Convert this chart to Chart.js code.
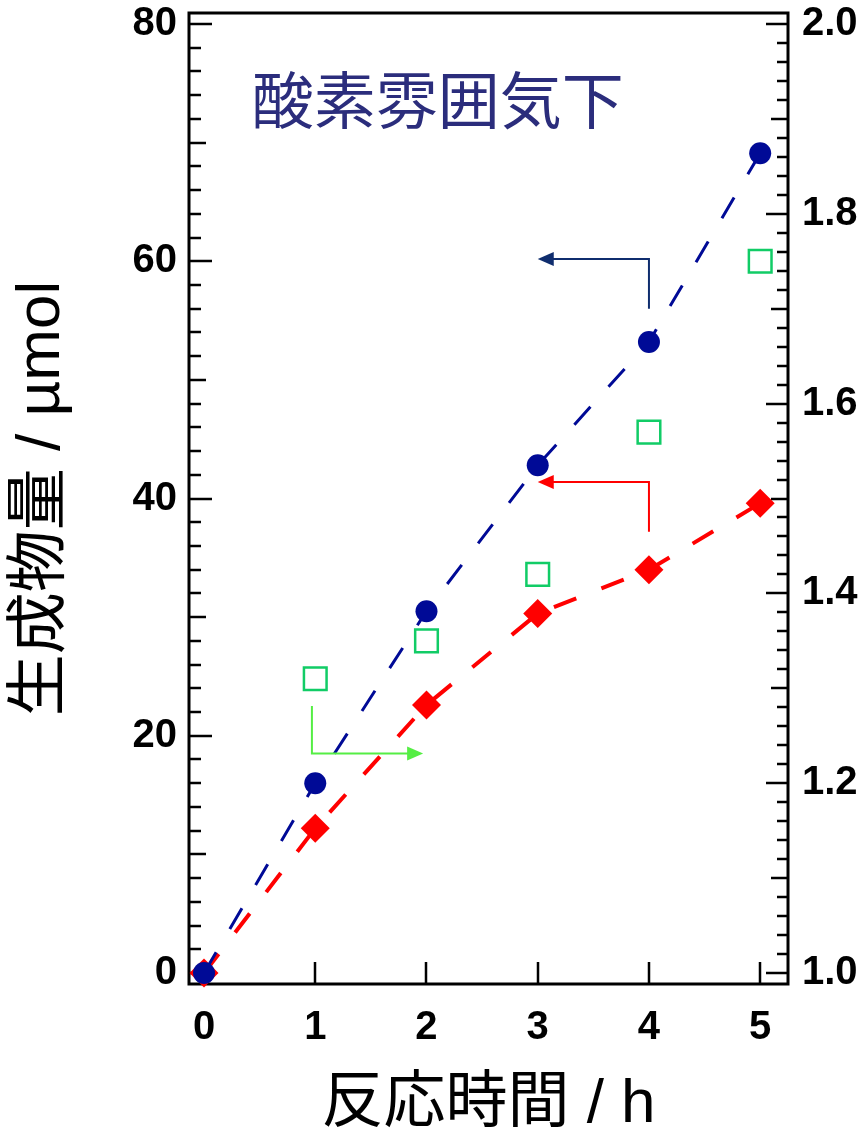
<!DOCTYPE html>
<html>
<head>
<meta charset="utf-8">
<script src="https://cdn.jsdelivr.net/npm/chart.js@4.4.1/dist/chart.umd.min.js"></script>
<style>
  body { margin: 0; background: #fff; }
  canvas { display: block; }
</style>
</head>
<body>
<canvas id="chart" width="865" height="1138"></canvas>
<script>
// data
const hours = [0, 1, 2, 3, 4, 5];
const blueAmount = [0, 16.0, 30.5, 42.8, 53.2, 69.1];   // µmol, left axis
const redAmount = [0, 12.2, 22.6, 30.3, 34.0, 39.6];    // µmol, left axis
const greenHours = [1, 2, 3, 4, 5];
const greenRatio = [1.31, 1.35, 1.42, 1.57, 1.75];      // right axis

const xTicks = [0, 1, 2, 3, 4, 5];
const leftTicks = [0, 20, 40, 60, 80];
const rightTicks = [1.0, 1.2, 1.4, 1.6, 1.8, 2.0];

const FONT = "'Liberation Sans', 'Noto Sans CJK JP', sans-serif";

// annotation arrows, in data units of x / left y
const arrows = [
  { pts: [[4, 56], [4, 60.2], [3, 60.2]], color: "#0f2d6e" },
  { pts: [[4, 37.2], [4, 41.4], [3, 41.4]], color: "#ff0000" },
  { pts: [[0.97, 22.5], [0.97, 18.5], [1.97, 18.5]], color: "#55ee44" }
];

const frameTicks = {
  id: "frameTicks",
  beforeDatasetsDraw(chart) {
    const { ctx, chartArea: a } = chart;
    const x = chart.scales.x, y = chart.scales.y, y1 = chart.scales.y1;
    ctx.save();
    ctx.strokeStyle = "#000";
    ctx.lineWidth = 2.5;
    ctx.beginPath();
    for (let v = 0; v <= 80; v += 2) {
      const len = v % 20 === 0 ? 23 : v % 10 === 0 ? 17 : 12;
      const py = Math.round(y.getPixelForValue(v));
      ctx.moveTo(a.left, py);
      ctx.lineTo(a.left + len, py);
    }
    for (let i = 0; i <= 50; i++) {
      const len = i % 10 === 0 ? 22 : i % 5 === 0 ? 17 : 11;
      const py = Math.round(y1.getPixelForValue(1 + i * 0.02));
      ctx.moveTo(a.right, py);
      ctx.lineTo(a.right - len, py);
    }
    xTicks.forEach(v => {
      const px = Math.round(x.getPixelForValue(v));
      ctx.moveTo(px, a.bottom);
      ctx.lineTo(px, a.bottom - 22);
    });
    ctx.stroke();
    ctx.lineWidth = 3;
    ctx.strokeRect(a.left, a.top, a.right - a.left, a.bottom - a.top);
    ctx.restore();
  },
  afterDatasetsDraw(chart) {
    const { ctx } = chart;
    const x = chart.scales.x, y = chart.scales.y;
    ctx.save();
    arrows.forEach(ar => {
      const p = ar.pts.map(([vx, vy]) => [x.getPixelForValue(vx), y.getPixelForValue(vy)]);
      const tip = p[p.length - 1], prev = p[p.length - 2];
      const dir = Math.sign(tip[0] - prev[0]);
      ctx.strokeStyle = ar.color;
      ctx.fillStyle = ar.color;
      ctx.lineWidth = 2;
      ctx.beginPath();
      ctx.moveTo(p[0][0], p[0][1]);
      ctx.lineTo(p[1][0], p[1][1]);
      ctx.lineTo(tip[0] - dir * 12, tip[1]);
      ctx.stroke();
      ctx.beginPath();
      ctx.moveTo(tip[0], tip[1]);
      ctx.lineTo(tip[0] - dir * 16, tip[1] - 7);
      ctx.lineTo(tip[0] - dir * 16, tip[1] + 7);
      ctx.closePath();
      ctx.fill();
    });
    // in-plot caption
    ctx.font = "62px 'Noto Sans CJK JP', sans-serif";
    ctx.fillStyle = "#2b2d7c";
    ctx.textBaseline = "middle";
    ctx.textAlign = "left";
    ctx.fillText("酸素雰囲気下", x.getPixelForValue(0.43), y.getPixelForValue(73.6));
    ctx.restore();
  }
};

function noPad(scale) {
  scale.paddingTop = 0;
  scale.paddingBottom = 0;
  scale.paddingLeft = 0;
  scale.paddingRight = 0;
}

new Chart(document.getElementById("chart"), {
  type: "scatter",
  data: {
    datasets: [
      {
        label: "blue",
        data: hours.map((h, i) => ({ x: h, y: blueAmount[i] })),
        yAxisID: "y",
        showLine: true,
        borderColor: "#000a96",
        borderWidth: 3,
        borderDash: [24, 27],
        pointStyle: "circle",
        pointRadius: 11,
        pointBackgroundColor: "#000a96",
        pointBorderWidth: 0,
        clip: false
      },
      {
        label: "red",
        data: hours.map((h, i) => ({ x: h, y: redAmount[i] })),
        yAxisID: "y",
        showLine: true,
        borderColor: "#ff0000",
        borderWidth: 4,
        borderDash: [24, 27],
        pointStyle: "rectRot",
        pointRadius: 14.5,
        pointBackgroundColor: "#ff0000",
        pointBorderWidth: 0,
        clip: false
      },
      {
        label: "green",
        data: greenHours.map((h, i) => ({ x: h, y: greenRatio[i] })),
        yAxisID: "y1",
        showLine: false,
        pointStyle: "rect",
        pointRadius: 16,
        pointBackgroundColor: "rgba(0,0,0,0)",
        pointBorderColor: "#11cc66",
        pointBorderWidth: 2.5,
        clip: false
      }
    ]
  },
  options: {
    responsive: false,
    animation: false,
    devicePixelRatio: 1,
    layout: { autoPadding: false, padding: { top: 13, left: 0, right: 0, bottom: 0 } },
    plugins: { legend: { display: false }, tooltip: { enabled: false } },
    scales: {
      x: {
        type: "linear",
        position: "bottom",
        min: -0.135,
        max: 5.25,
        afterBuildTicks: s => { s.ticks = xTicks.map(v => ({ value: v })); },
        afterFit: s => { s.height = 154; noPad(s); },
        grid: { display: false, drawTicks: false },
        border: { display: false },
        ticks: { color: "#000", font: { family: FONT, size: 40, weight: "bold" }, padding: 20, maxRotation: 0 },
        title: {
          display: true,
          text: "反応時間 / h",
          color: "#000",
          font: { family: FONT, size: 62, lineHeight: 1 },
          padding: { top: 0, bottom: 2 }
        }
      },
      y: {
        type: "linear",
        position: "left",
        min: -0.93,
        max: 80.93,
        afterBuildTicks: s => { s.ticks = leftTicks.map(v => ({ value: v })); },
        afterFit: s => { s.width = 189; noPad(s); },
        grid: { display: false, drawTicks: false },
        border: { display: false },
        ticks: { color: "#000", font: { family: FONT, size: 40, weight: "bold" }, padding: 12 },
        title: {
          display: true,
          text: "生成物量 / µmol",
          color: "#000",
          font: { family: FONT, size: 62, lineHeight: 1 },
          padding: { top: 11, bottom: 0 }
        }
      },
      y1: {
        type: "linear",
        position: "right",
        min: 1 - 0.93 / 80,
        max: 2 + 0.93 / 80,
        afterBuildTicks: s => { s.ticks = rightTicks.map(v => ({ value: v })); },
        afterFit: s => { s.width = 77; noPad(s); },
        grid: { display: false, drawTicks: false },
        border: { display: false },
        ticks: {
          color: "#000",
          font: { family: FONT, size: 40, weight: "bold" },
          padding: 14,
          callback: v => v.toFixed(1)
        }
      }
    }
  },
  plugins: [frameTicks]
});
</script>
</body>
</html>
